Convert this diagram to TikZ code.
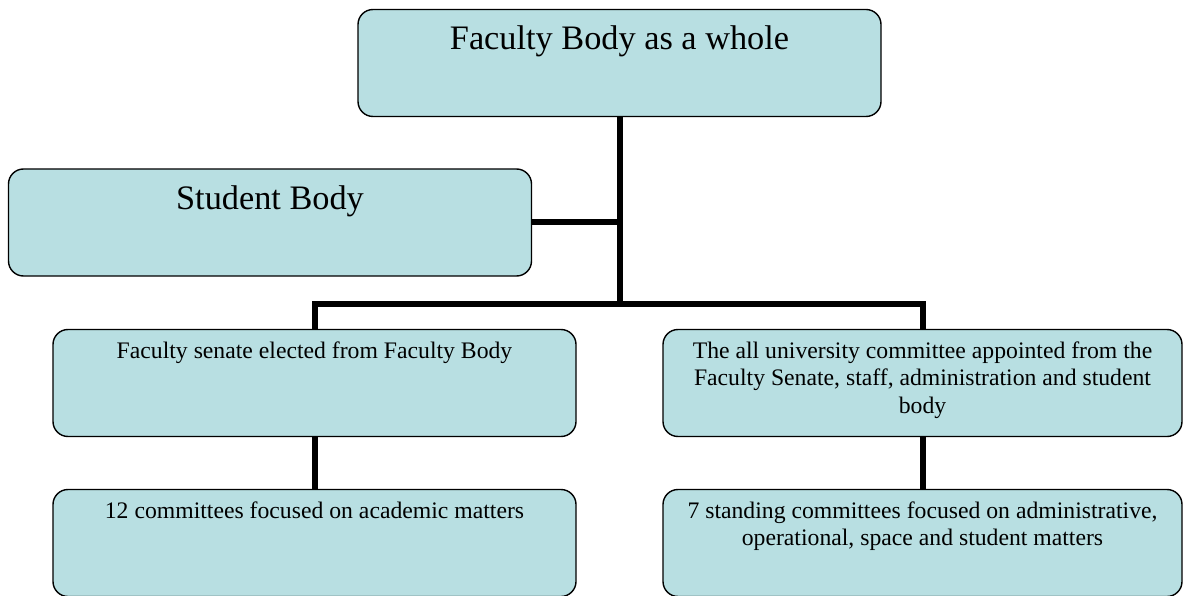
\documentclass[tikz,border=0pt]{standalone}
\usepackage{fontspec}
\setmainfont{Liberation Serif}
\usetikzlibrary{positioning}
\definecolor{boxblue}{RGB}{184,223,226}
\begin{document}
\begin{tikzpicture}[x=1pt,y=-1pt,
    unit/.style={draw,fill=boxblue,rounded corners=15pt,line width=1.4pt,minimum width=523pt,minimum height=107pt,inner sep=0pt},
    bigtxt/.style={anchor=north,inner sep=0pt,font=\fontsize{34.3}{39}\selectfont},
    smalltxt/.style={anchor=north,inner sep=0pt,align=center,font=\fontsize{23.7}{27.2}\selectfont},
    link/.style={line width=6pt}]
    \useasboundingbox (0,0) rectangle (1183,596);

    \node[unit] (whole) at (619.5,63){};
    \node[unit] (student) at (270,222.5){};
    \node[unit] (senate) at (314.5,383){};
    \node[unit,minimum width=519pt] (univ) at (922.5,383){};
    \node[unit] (academic) at (314.5,543){};
    \node[unit,minimum width=519pt] (standing) at (922.5,543){};

    \node[bigtxt] (wholetxt) at ([yshift=-17pt]whole.north){Faculty Body as a whole};
    \node[bigtxt] (studenttxt) at ([yshift=-17pt]student.north){Student Body};
    \node[smalltxt] (senatetxt) at ([yshift=-13pt]senate.north){Faculty senate elected from Faculty Body};
    \node[smalltxt] (univtxt) at ([yshift=-13pt]univ.north){The all university committee appointed from the\\Faculty Senate, staff, administration and student\\body};
    \node[smalltxt] (academictxt) at ([yshift=-13pt]academic.north){12 committees focused on academic matters};
    \node[smalltxt] (standingtxt) at ([yshift=-13pt]standing.north){7 standing committees focused on administrative,\\operational, space and student matters};

    \coordinate (fork) at (619.5,304);
    \draw[link] (whole.south) -- (fork);
    \draw[link] (student.east) -- (student.east -| fork);
    \draw[link] (senate.north) -- (senate.north |- fork) -- (univ.north |- fork) -- (univ.north);
    \draw[link] (senate.south) -- (academic.north);
    \draw[link] (univ.south) -- (standing.north);
\end{tikzpicture}
\end{document}
